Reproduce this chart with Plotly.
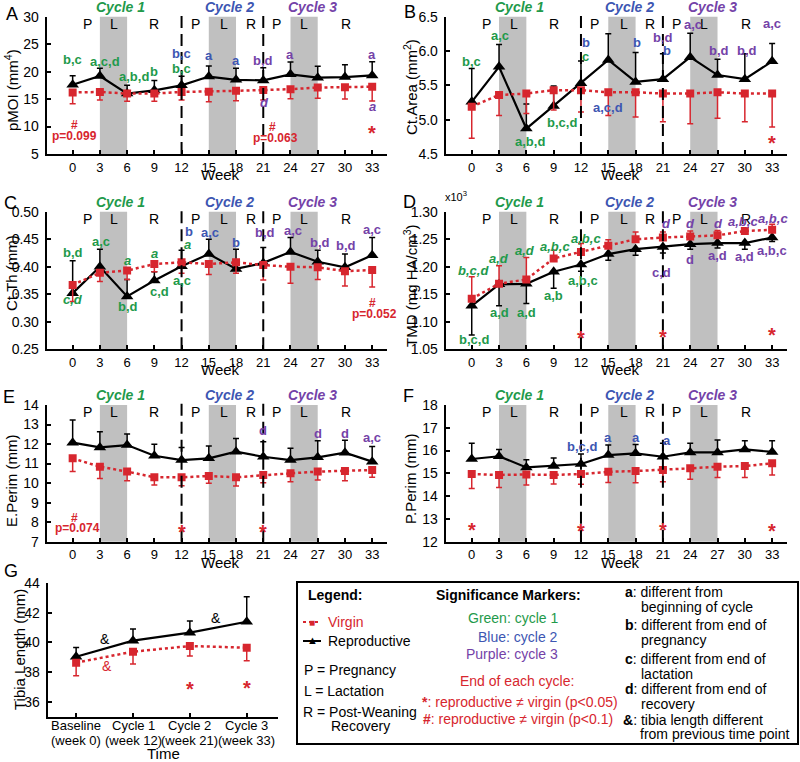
import plotly.graph_objects as go

W, H = 800, 762
FONT = "Liberation Sans, Arial, sans-serif"
GREEN = "#1f9a4b"
BLUE = "#3d56b2"
PURPLE = "#7442a8"
RED = "#d7262e"
GRAY = "#c0c0c0"

# ---------------- data ----------------
weeks = [0, 3, 6, 9, 12, 15, 18, 21, 24, 27, 30, 33]

pmoi_rep = [17.6, 19.2, 16.0, 16.6, 17.5, 19.1, 18.5, 18.4, 19.5, 18.9, 19.0, 19.3]
pmoi_rep_err = [1.64, 1.4, 1.5, 1.8, 1.64, 1.94, 2.1, 2.3, 2.25, 2.06, 2.25, 2.5]
pmoi_vir = [16.2, 16.3, 16.0, 16.0, 16.3, 16.35, 16.5, 16.65, 16.8, 17.1, 17.15, 17.25]
pmoi_vir_err = [2.06, 1.46, 1.4, 1.4, 1.46, 1.82, 1.82, 1.82, 1.76, 1.94, 2.12, 2.6]

ctarea_rep = [5.26, 5.77, 4.87, 5.20, 5.53, 5.87, 5.55, 5.59, 5.91, 5.65, 5.59, 5.85]
ctarea_rep_err = [0.485, 0.325, 0.36, 0.29, 0.325, 0.38, 0.43, 0.37, 0.35, 0.23, 0.37, 0.26]
ctarea_vir = [5.19, 5.36, 5.38, 5.43, 5.43, 5.40, 5.40, 5.38, 5.38, 5.40, 5.38, 5.38]
ctarea_vir_err = [0.46, 0.30, 0.29, 0.29, 0.32, 0.34, 0.36, 0.41, 0.44, 0.38, 0.41, 0.485]

ctth_rep = [0.352, 0.400, 0.346, 0.375, 0.401, 0.423, 0.396, 0.407, 0.427, 0.409, 0.399, 0.421]
ctth_rep_err = [0.059, 0.032, 0.031, 0.016, 0.029, 0.027, 0.036, 0.028, 0.026, 0.021, 0.024, 0.032]
ctth_vir = [0.367, 0.389, 0.393, 0.405, 0.408, 0.405, 0.408, 0.403, 0.400, 0.399, 0.392, 0.394]
ctth_vir_err = [0.030, 0.016, 0.016, 0.014, 0.020, 0.019, 0.020, 0.027, 0.030, 0.022, 0.027, 0.031]

tmd_rep = [1.129, 1.168, 1.169, 1.191, 1.204, 1.223, 1.232, 1.236, 1.241, 1.243, 1.243, 1.253]
tmd_rep_err = [0.053, 0.039, 0.036, 0.030, 0.012, 0.011, 0.011, 0.011, 0.009, 0.009, 0.011, 0.007]
tmd_vir = [1.142, 1.169, 1.177, 1.215, 1.227, 1.238, 1.250, 1.253, 1.255, 1.257, 1.265, 1.267]
tmd_vir_err = [0.040, 0.033, 0.040, 0.015, 0.015, 0.011, 0.013, 0.010, 0.010, 0.009, 0.005, 0.010]

eperim_rep = [12.07, 11.83, 11.95, 11.40, 11.18, 11.27, 11.61, 11.35, 11.18, 11.32, 11.56, 11.10]
eperim_rep_err = [1.16, 0.80, 0.56, 0.59, 0.65, 0.63, 0.68, 0.77, 0.60, 0.85, 0.64, 0.77]
eperim_vir = [11.27, 10.84, 10.59, 10.30, 10.30, 10.36, 10.30, 10.41, 10.50, 10.59, 10.62, 10.67]
eperim_vir_err = [0.68, 0.60, 0.47, 0.40, 0.43, 0.37, 0.45, 0.39, 0.43, 0.43, 0.50, 0.37]

pperim_rep = [15.63, 15.75, 15.26, 15.32, 15.41, 15.80, 15.88, 15.73, 15.92, 15.92, 16.05, 15.94]
pperim_rep_err = [0.69, 0.30, 0.34, 0.35, 0.44, 0.44, 0.39, 0.59, 0.40, 0.54, 0.38, 0.49]
pperim_vir = [14.97, 14.93, 14.95, 14.93, 14.97, 15.07, 15.10, 15.15, 15.22, 15.29, 15.32, 15.44]
pperim_vir_err = [0.63, 0.55, 0.46, 0.40, 0.45, 0.47, 0.51, 0.52, 0.48, 0.47, 0.50, 0.51]

tibia_cat_top = ["Baseline", "Cycle 1", "Cycle 2", "Cycle 3"]
tibia_cat_bottom = ["(week 0)", "(week 12)", "(week 21)", "(week 33)"]
tibia_pos = [0, 1, 2, 3]
tibia_rep = [39.03, 40.11, 40.65, 41.39]
tibia_rep_err = [0.63, 0.79, 0.79, 1.69]
tibia_vir = [38.63, 39.37, 39.75, 39.64]
tibia_vir_err = [0.88, 0.83, 0.67, 0.88]

lactation_bands = [(3, 6), (15, 18), (24, 27)]
cycle_ends = [12, 21]
phase_x = [1.6, 4.6, 9.0, 13.5, 16.7, 19.6, 22.5, 25.5, 30.1]
phase_txt = ["P", "L", "R", "P", "L", "R", "P", "L", "R"]
cycle_x = [5.3, 17.3, 26.4]
cycle_txt = ["Cycle 1", "Cycle 2", "Cycle 3"]
cycle_col = [GREEN, BLUE, PURPLE]

# significance labels: (week, value, text, colour, italic)
A_labels = [(0, 22.2, "b,c", GREEN, 0), (3.6, 21.9, "a,c,d", GREEN, 0), (6.8, 19.2, "a,b,d", GREEN, 0),
            (9, 20.0, "b", GREEN, 0), (12, 23.3, "b,c", BLUE, 0), (12, 20.6, "b,c", GREEN, 0),
            (15, 23.0, "a", BLUE, 0), (18, 22.1, "a", BLUE, 0), (21, 22.1, "b,d", PURPLE, 0),
            (21.1, 14.35, "d", PURPLE, 1), (24, 23.2, "a", PURPLE, 0), (33, 23.2, "a", PURPLE, 0),
            (33, 13.6, "a", PURPLE, 1)]
A_notes = [(0.2, 10.3, "#"), (0.2, 8.2, "p=0.099"), (22.0, 10.0, "#"), (22.3, 7.85, "p=0.063")]
A_stars = [(33, 9.8)]

B_labels = [(0, 5.85, "b,c", GREEN, 0), (3.1, 6.22, "a,c", GREEN, 0), (6.4, 4.68, "a,b,d", GREEN, 0),
            (9.9, 4.96, "b,c,d", GREEN, 0), (12.5, 6.12, "b", BLUE, 0), (12.5, 5.92, "c", GREEN, 0),
            (15, 5.18, "a,c,d", BLUE, 0), (18.1, 6.12, "b", BLUE, 0), (21, 6.2, "b,d", PURPLE, 0),
            (21.4, 6.01, "b", BLUE, 0), (24.3, 6.39, "a,c", PURPLE, 0), (27.2, 6.01, "b,d", PURPLE, 0),
            (30.2, 6.01, "b,d", PURPLE, 0), (33, 6.4, "a,c", PURPLE, 0)]
B_notes = []
B_stars = [(33, 4.73)]

C_labels = [(0, 0.426, "b,d", GREEN, 0), (0, 0.340, "c,d", GREEN, 1), (3.1, 0.445, "a,c", GREEN, 0),
            (6, 0.412, "a", GREEN, 1), (6.1, 0.327, "b,d", GREEN, 0), (9, 0.424, "a", GREEN, 1),
            (9.6, 0.355, "c,d", GREEN, 0), (12.8, 0.464, "b", BLUE, 0), (12.7, 0.440, "a", GREEN, 1),
            (12.1, 0.375, "a,c", GREEN, 0), (15.1, 0.462, "a,c", BLUE, 0), (18, 0.444, "b", BLUE, 0),
            (21.2, 0.462, "b,d", PURPLE, 0), (24.3, 0.465, "a,c", PURPLE, 0), (27.2, 0.444, "b,d", PURPLE, 0),
            (30.1, 0.438, "b,d", PURPLE, 0), (33, 0.467, "a,c", PURPLE, 0)]
C_notes = [(33, 0.334, "#"), (33.3, 0.314, "p=0.052")]
C_stars = []

D_labels = [(0.2, 1.193, "b,c,d", GREEN, 1), (0.2, 1.067, "b,c,d", GREEN, 0), (3, 1.2146, "a,d", GREEN, 1),
            (3, 1.116, "a,d", GREEN, 0), (5.9, 1.2287, "a,d", GREEN, 1), (6, 1.116, "a,d", GREEN, 0),
            (9.2, 1.2366, "a,b,c", GREEN, 1), (9, 1.1476, "a,b", GREEN, 0), (12.5, 1.2518, "a,b,c", GREEN, 1),
            (12.2, 1.175, "a,b,c", GREEN, 0), (21.4, 1.279, "d", PURPLE, 1), (20.9, 1.189, "c,d", PURPLE, 0),
            (24, 1.279, "d", PURPLE, 1), (24, 1.2134, "d", PURPLE, 0), (27.1, 1.279, "d", PURPLE, 1),
            (27, 1.2207, "a,d", PURPLE, 0), (29.8, 1.2817, "a,b,c", PURPLE, 1), (30, 1.2195, "a,d", PURPLE, 0),
            (33.1, 1.2878, "a,b,c", PURPLE, 1), (33, 1.2287, "a,b,c", PURPLE, 0)]
D_notes = []
D_stars = [(12, 1.0793), (21, 1.082), (33, 1.085)]

E_labels = [(21, 12.69, "d", PURPLE, 0), (27, 12.55, "d", PURPLE, 0), (30, 12.55, "d", PURPLE, 0),
            (33, 12.33, "a,c", PURPLE, 0)]
E_notes = [(0.2, 8.2, "#"), (0.5, 7.72, "p=0.074")]
E_stars = [(12, 7.77), (21, 7.77)]

F_labels = [(12.1, 16.17, "b,c,d", BLUE, 0), (15, 16.58, "a", BLUE, 0), (18, 16.58, "a", BLUE, 0),
            (21.4, 16.46, "a", BLUE, 0)]
F_notes = []
F_stars = [(0, 12.73), (12, 12.69), (21, 12.73), (33, 12.69)]

G_amps = [(0.51, 40.2, "black"), (0.54, 38.4, RED), (2.46, 41.62, "black")]
G_stars = [(2, 37.19), (3, 37.24)]

# ---------------- layout helpers ----------------
def xdom(a, b):
    return [a / W, b / W]

def ydom(top, bottom):
    return [1 - bottom / H, 1 - top / H]

def px(x):
    return x / W

def py(y):
    return 1 - y / H

LEFT = (46.7, 386.7)
RIGHT = (445.7, 786.7)
ROW1 = (16.7, 154.0)
ROW2 = (211.7, 349.3)
ROW3 = (405.0, 541.7)
XR = [-2.86, 34.6]

panels = [
    (1, "A", LEFT, ROW1, [5, 30], 5, "d", pmoi_rep, pmoi_rep_err, pmoi_vir, pmoi_vir_err, True,
     "pMOI (mm<sup>4</sup>)", (11, 90), A_labels, A_notes, A_stars, (12, 14)),
    (2, "B", RIGHT, ROW1, [4.5, 6.5], 0.5, ".1f", ctarea_rep, ctarea_rep_err, ctarea_vir, ctarea_vir_err, True,
     "Ct.Area (mm<sup>2</sup>)", (410, 87), B_labels, B_notes, B_stars, (410, 12)),
    (3, "C", LEFT, ROW2, [0.25, 0.50], 0.05, ".2f", ctth_rep, ctth_rep_err, ctth_vir, ctth_vir_err, True,
     "Ct.Th (mm)", (11, 273), C_labels, C_notes, C_stars, (10, 203)),
    (4, "D", RIGHT, ROW2, [1.05, 1.30], 0.05, ".2f", tmd_rep, tmd_rep_err, tmd_vir, tmd_vir_err, False,
     "TMD (mg HA/cm<sup>3</sup>)", (410, 285), D_labels, D_notes, D_stars, (409, 202)),
    (5, "E", LEFT, ROW3, [7, 14], 1, "d", eperim_rep, eperim_rep_err, eperim_vir, eperim_vir_err, True,
     "E.Perim (mm)", (11, 481), E_labels, E_notes, E_stars, (9, 397)),
    (6, "F", RIGHT, ROW3, [12, 18], 1, "d", pperim_rep, pperim_rep_err, pperim_vir, pperim_vir_err, True,
     "P.Perim (mm)", (411, 479), F_labels, F_notes, F_stars, (408, 396)),
]

fig = go.Figure()
axis_common = dict(showline=True, linecolor="black", linewidth=2, showgrid=False, zeroline=False,
                   ticks="inside", ticklen=4, tickwidth=1.5, tickcolor="black", automargin=False)
YTF = dict(family=FONT, size=14, color="black")
XTF = dict(family=FONT, size=13, color="black")


def add_series(xa, ya, x, y, err, up, color, symbol, dash, size, lw):
    zeros = [0] * len(y)
    fig.add_trace(go.Scatter(
        x=x, y=y, xaxis=xa, yaxis=ya, mode="lines+markers",
        line=dict(color=color, width=lw, dash=dash),
        marker=dict(symbol=symbol, size=size, color=color, line=dict(width=0)),
        error_y=dict(type="data", symmetric=False, array=err if up else zeros,
                     arrayminus=zeros if up else err, color=color, thickness=1.5, width=3),
        showlegend=False, hoverinfo="skip"))


def txt(x, y, text, xref, yref, size, color, xanchor="center", yanchor="middle", **kw):
    fig.add_annotation(x=x, y=y, xref=xref, yref=yref, text=text, showarrow=False,
                       xanchor=xanchor, yanchor=yanchor,
                       font=dict(family=FONT, size=size, color=color), **kw)


for (idx, letter, xd, yd, yr, dt, fmt, rep, rep_err, vir, vir_err, rep_up, ytitle, tpos,
     labels, notes, stars, lpos) in panels:
    s = "" if idx == 1 else str(idx)
    xa, ya = "x" + s, "y" + s
    fig.layout["xaxis" + s] = dict(domain=xdom(*xd), range=XR, anchor=ya, tickmode="array", tickangle=0,
                                   tickvals=weeks, ticktext=[str(w) for w in weeks], tickfont=XTF,
                                   **axis_common)
    fig.layout["yaxis" + s] = dict(domain=ydom(*yd), range=yr, anchor=xa, dtick=dt, tick0=yr[0],
                                   tickformat=fmt, ticklabelstandoff=3, tickfont=YTF, **axis_common)
    for a, b in lactation_bands:
        fig.add_shape(type="rect", xref=xa, yref=ya + " domain", x0=a, x1=b, y0=0, y1=1,
                      fillcolor=GRAY, line=dict(width=0), layer="below")
    for c in cycle_ends:
        fig.add_shape(type="line", xref=xa, yref=ya + " domain", x0=c, x1=c, y0=0, y1=1.03,
                      line=dict(color="black", width=2, dash="12px,6px"))
    add_series(xa, ya, weeks, rep, rep_err, rep_up, "black", "triangle-up", "solid", 11, 2.2)
    add_series(xa, ya, weeks, vir, vir_err, not rep_up, RED, "square", "dot", 8, 2.5)
    for x, t in zip(phase_x, phase_txt):
        txt(x, 1, t, xa, ya + " domain", 14, "black", yshift=-7)
    for x, t, c in zip(cycle_x, cycle_txt, cycle_col):
        txt(x, 1, "<b><i>" + t + "</i></b>", xa, ya + " domain", 14, c, yshift=10)
    for (x, y, t, c, it) in labels:
        t2 = "<i>" + t + "</i>" if it else t
        txt(x, y, "<b>" + t2 + "</b>", xa, ya, 13, c)
    for (x, y, t) in notes:
        txt(x, y, "<b>" + t + "</b>", xa, ya, 12, RED)
    for (x, y) in stars:
        txt(x, y, "<b>*</b>", xa, ya, 20, RED, yshift=-5)
    txt(px(tpos[0]), py(tpos[1]), ytitle, "paper", "paper", 15, "black", textangle=-90)
    txt(px((xd[0] + xd[1]) / 2 + 4), py(yd[1] + 20.5), "Week", "paper", "paper", 15, "black")
    txt(px(lpos[0]), py(lpos[1]), letter, "paper", "paper", 18, "black")

txt(px(456), py(196), "x10<sup>3</sup>", "paper", "paper", 11, "black")

# ---------------- panel G ----------------
fig.layout["xaxis7"] = dict(domain=xdom(47.7, 278), range=[-0.5, 3.55], anchor="y7", tickmode="array",
                            tickvals=tibia_pos, showticklabels=False, **axis_common)
fig.layout["yaxis7"] = dict(domain=ydom(583, 716.5), range=[35, 44], anchor="x7", dtick=2, tick0=36,
                            ticklabelstandoff=3, tickfont=YTF, **axis_common)
add_series("x7", "y7", tibia_pos, tibia_rep, tibia_rep_err, True, "black", "triangle-up", "solid", 11, 2.2)
add_series("x7", "y7", tibia_pos, tibia_vir, tibia_vir_err, False, RED, "square", "dot", 8, 2.5)
for x, t1, t2 in zip(tibia_pos, tibia_cat_top, tibia_cat_bottom):
    txt(x, py(725), t1, "x7", "paper", 13, "black")
    txt(x, py(740), t2, "x7", "paper", 13, "black")
for (x, y, c) in G_amps:
    txt(x, y, "&amp;", "x7", "y7", 14, c)
for (x, y) in G_stars:
    txt(x, y, "<b>*</b>", "x7", "y7", 20, RED, yshift=-5)
txt(px(19), py(650), "Tibia Length (mm)", "paper", "paper", 15, "black", textangle=-90)
txt(px(163), py(753), "Time", "paper", "paper", 15, "black")
txt(px(11), py(571), "G", "paper", "paper", 18, "black")

# ---------------- legend box ----------------
fig.add_shape(type="rect", xref="paper", yref="paper", x0=px(297), x1=px(798), y0=py(744), y1=py(582),
              line=dict(color="black", width=2))
LF = 14
def ltxt(x, y, t, color="black", anchor="left", size=LF):
    txt(px(x), py(y), t, "paper", "paper", size, color, xanchor=anchor)

ltxt(306, 595, "<b>Legend:</b>")
fig.add_shape(type="line", xref="paper", yref="paper", x0=px(303), x1=px(321), y0=py(622), y1=py(622),
              line=dict(color=RED, width=2, dash="dot"))
txt(px(312), py(622), "■", "paper", "paper", 10, RED)
ltxt(326, 622, "Virgin", RED)
fig.add_shape(type="line", xref="paper", yref="paper", x0=px(303), x1=px(321), y0=py(641), y1=py(641),
              line=dict(color="black", width=2))
txt(px(312), py(640), "▲", "paper", "paper", 11, "black")
ltxt(326, 641, "Reproductive")
ltxt(302, 670, "P = Pregnancy")
ltxt(302, 691, "L = Lactation")
ltxt(301, 711.5, "R = Post-Weaning")
ltxt(329, 726, "Recovery")

ltxt(508, 595, "<b>Significance Markers:</b>", anchor="center")
ltxt(560, 618, "Green: cycle 1", GREEN, "right")
ltxt(560, 637, "Blue: cycle 2", BLUE, "right")
ltxt(560, 654, "Purple: cycle 3", PURPLE, "right")
ltxt(517, 681, "End of each cycle:", RED, "center")
ltxt(420, 701.5, "<b>*</b>: reproductive ≠ virgin (p&lt;0.05)", RED)
ltxt(421, 718.5, "<b>#</b>: reproductive ≠ virgin (p&lt;0.1)", RED)

ltxt(623, 592, "<b>a</b>: different from")
ltxt(639, 607, "beginning of cycle")
ltxt(623, 625, "<b>b</b>: different from end of")
ltxt(639, 640, "pregnancy")
ltxt(623, 659, "<b>c</b>: different from end of")
ltxt(639, 673.5, "lactation")
ltxt(623, 689, "<b>d</b>: different from end of")
ltxt(639, 704, "recovery")
ltxt(621, 719.5, "<b>&amp;</b>: tibia length different")
ltxt(638, 734, "from previous time point")

fig.update_layout(width=W, height=H, margin=dict(l=0, r=0, t=0, b=0, autoexpand=False),
                  paper_bgcolor="white", plot_bgcolor="rgba(0,0,0,0)",
                  font=dict(family=FONT, color="black"), showlegend=False)

fig.write_html("out.html", config={"displayModeBar": False},
               post_script="document.body.style.margin='0px';")
